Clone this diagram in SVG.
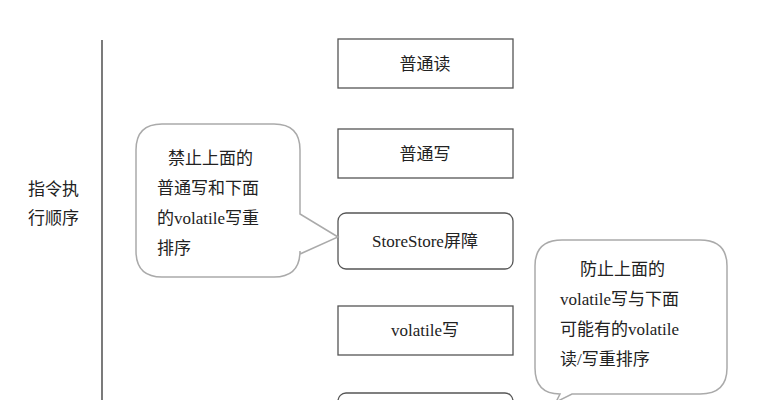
<svg xmlns="http://www.w3.org/2000/svg" width="761" height="400" viewBox="0 0 761 400">
<style>
.b{fill:#fff;stroke:#555;stroke-width:1.3}
.c{fill:#fff;stroke:#aaa;stroke-width:1.5}
text{font-family:"Liberation Serif","Noto Sans CJK SC",serif;font-size:17px;fill:#222}
.m{text-anchor:middle}
</style>
<rect width="761" height="400" fill="#fff"/>
<line x1="102" y1="40" x2="102" y2="400" stroke="#333" stroke-width="1.3"/>
<text x="28" y="195">指令执</text>
<text x="28" y="224">行顺序</text>
<g id="n1"><rect class="b" x="338" y="39" width="175" height="49"/><text class="m" x="425" y="70">普通读</text></g>
<g id="n2"><rect class="b" x="338" y="129" width="175" height="49"/><text class="m" x="425" y="160">普通写</text></g>
<g id="n3"><rect class="b" x="338" y="213" width="175" height="56" rx="8"/><text class="m" x="425" y="247">StoreStore屏障</text></g>
<g id="n4"><rect class="b" x="338" y="306" width="175" height="49"/><text class="m" x="425" y="336">volatile写</text></g>
<g id="n5"><rect class="b" x="338" y="393" width="175" height="30" rx="8"/></g>
<g id="c1"><path class="c" d="M162,124 H274 Q300,124 300,150 V214 L338,237 L300,254 V251 Q300,277 274,277 H162 Q136,277 136,251 V150 Q136,124 162,124 Z"/>
<text x="168" y="164">禁止上面的</text><text x="157" y="194">普通写和下面</text><text x="157" y="224">的volatile写重</text><text x="157" y="254">排序</text></g>
<g id="c2"><path class="c" d="M562,240 H700 Q727,240 727,266 V368 Q727,394 700,394 H572 L556,402 L560,394 Q535,394 535,368 V266 Q535,240 562,240 Z"/>
<text x="580" y="275">防止上面的</text><text x="560" y="305">volatile写与下面</text><text x="560" y="335">可能有的volatile</text><text x="560" y="365">读/写重排序</text></g>
</svg>
